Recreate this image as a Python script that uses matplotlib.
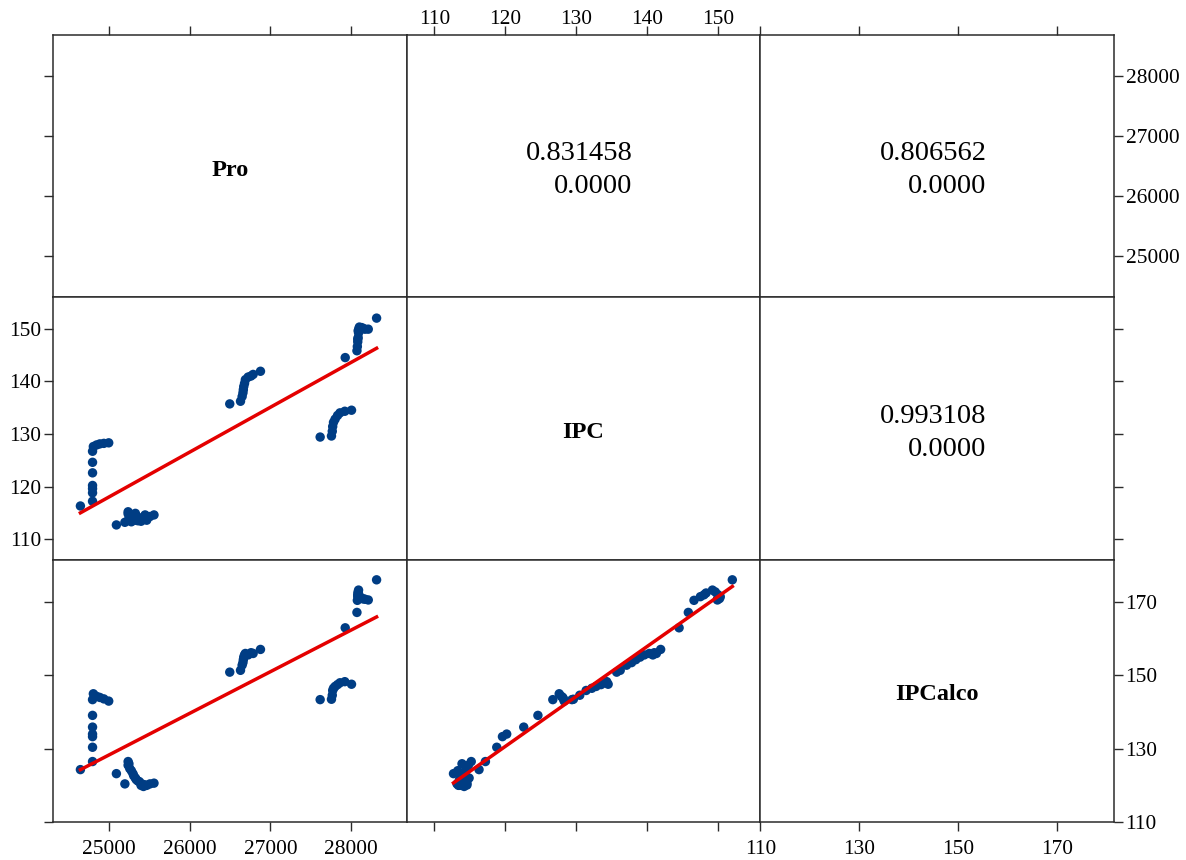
import numpy as np
import matplotlib
matplotlib.use('Agg')
import matplotlib.pyplot as plt

plt.rcParams['font.family'] = ['Liberation Serif', 'DejaVu Serif']

# ---- data ----
names = ['Pro', 'IPC', 'IPCalco']

pro = [24650, 24800, 24800, 24800, 24800, 24800, 24800, 24800, 24810, 24850, 24890, 24940, 25000,
       25095, 25240, 25240, 25250, 25280, 25310, 25340, 25200, 25380, 25400, 25430, 25470, 25510, 25560,
       25260, 25300, 25330, 25360, 25420, 25450,
       26497, 26630, 26650, 26660, 26665, 26670, 26680, 26690, 26724, 26760, 26786, 26877,
       27615, 27755, 27765, 27770, 27780, 27800, 27830, 27860, 27920, 28003,
       27925, 28070, 28075, 28080, 28085, 28090, 28095, 28130, 28170, 28210, 28313,
       28080, 28085, 28100, 28150]

ipc = [116.3, 117.2, 118.8, 119.6, 120.2, 122.6, 124.6, 126.7, 127.6, 127.9, 128.1, 128.2, 128.3,
       112.7, 115.2, 114.8, 113.9, 113.3, 114.4, 113.6, 113.2, 114.0, 113.4, 114.2, 113.6, 114.3, 114.6,
       114.5, 113.8, 114.9, 113.5, 113.8, 114.6,
       135.7, 136.2, 137.1, 137.8, 138.4, 139.0, 139.6, 140.3, 140.8, 141.0, 141.3, 141.9,
       129.4, 129.6, 130.5, 131.4, 132.2, 132.8, 133.5, 134.0, 134.3, 134.5,
       144.5, 145.8, 146.6, 147.5, 148.3, 149.2, 150.0, 150.2, 149.9, 149.9, 152.0,
       148.0, 149.6, 150.3, 150.0]

ipcalco = [124.3, 126.5, 130.4, 133.3, 134.0, 135.9, 139.1, 143.4, 145.0, 144.3, 144.0, 143.6, 143.0,
           123.2, 126.5, 125.5, 125.9, 124.0, 122.6, 121.6, 120.4, 121.0, 120.0, 119.7, 120.0, 120.4, 120.6,
           124.6, 123.2, 122.0, 121.2, 120.3, 120.1,
           150.9, 151.4, 152.8, 153.5, 154.3, 155.0, 155.6, 156.0, 155.6, 156.2, 156.0, 157.1,
           143.4, 143.5, 144.6, 145.9, 146.5, 147.0, 147.5, 148.0, 148.3, 147.6,
           163.0, 167.2, 170.5, 171.5, 172.5, 173.3, 172.0, 171.0, 170.8, 170.6, 176.1,
           172.0, 172.8, 171.5, 170.9]

corr_values = ['0.831458', '0.806562', '0.993108']
p_values = ['0.0000', '0.0000', '0.0000']
corr_cells = [(0, 1), (0, 2), (1, 2)]

tick_values = {
    'Pro': [25000, 26000, 27000, 28000],
    'IPC': [110, 120, 130, 140, 150],
    'IPCalco': [110, 130, 150, 170],
}
axis_range = {
    'Pro': (24311, 28685),
    'IPC': (106.1, 155.95),
    'IPCalco': (110.0, 181.6),
}

data = {'Pro': np.array(pro), 'IPC': np.array(ipc), 'IPCalco': np.array(ipcalco)}

# ---- figure ----
W, H = 1186, 860
fig = plt.figure(figsize=(W / 100, H / 100), dpi=100)
gs = fig.add_gridspec(3, 3, left=53 / W, right=1114 / W, top=1 - 35 / H, bottom=1 - 822 / H,
                      wspace=0, hspace=0)

dot_color = '#003D84'
line_color = '#E40000'
frame_color = '#2b2b2b'
tick_fs = 15.4

for i in range(3):
    for j in range(3):
        ax = fig.add_subplot(gs[i, j])
        xv, yv = names[j], names[i]
        ax.set_xlim(*axis_range[xv])
        ax.set_ylim(*axis_range[yv])
        ax.set_xticks(tick_values[xv])
        ax.set_yticks(tick_values[yv])
        for s in ax.spines.values():
            s.set_color(frame_color)
            s.set_linewidth(1.1)

        top_on = (i == 0)
        bottom_on = (i == 2)
        ax.tick_params(axis='x', which='both', direction='out', length=6.8, width=1.0,
                       color=frame_color, top=top_on, bottom=bottom_on,
                       labeltop=(top_on and j == 1), labelbottom=(bottom_on and j != 1),
                       labelsize=tick_fs, pad=6.0)
        if top_on and j == 1:
            ax.tick_params(axis='x', pad=-2.3)

        left_on = (j == 0)
        right_on = (j == 2)
        ax.tick_params(axis='y', which='both', direction='out', length=6.8, width=1.0,
                       color=frame_color, left=left_on, right=right_on,
                       labelleft=(left_on and i == 1), labelright=(right_on and i != 1),
                       labelsize=tick_fs, pad=1.5)

        if i == j:
            ax.text(0.5, 0.485, names[i], transform=ax.transAxes, ha='center', va='center',
                    fontsize=17.5, fontweight='bold')
        elif i < j:
            k = corr_cells.index((i, j))
            ax.text(0.488, 0.484, corr_values[k] + '\n' + p_values[k], transform=ax.transAxes,
                    ha='center', va='center', multialignment='right', fontsize=20.5,
                    linespacing=1.42)
        else:
            x = data[xv]
            y = data[yv]
            ax.scatter(x, y, s=46, color=dot_color, edgecolors='none', zorder=3)
            b, a = np.polyfit(x, y, 1)
            xs = np.array([x.min(), x.max()])
            ax.plot(xs, a + b * xs, color=line_color, lw=2.5, zorder=4)

fig.savefig('out.png', dpi=100)
